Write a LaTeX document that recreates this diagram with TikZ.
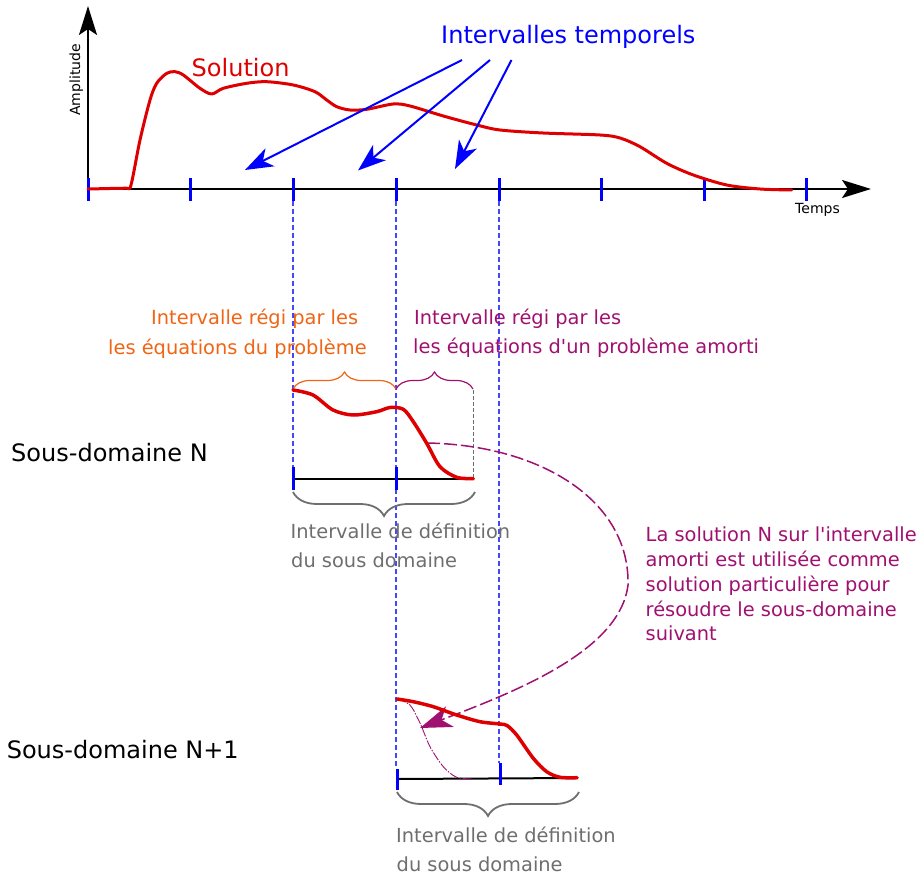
\documentclass[tikz,border=0pt]{standalone}
\usepackage{fontspec}
\setmainfont{DejaVu Sans}[Ligatures=TeXOff]
\usetikzlibrary{arrows.meta,decorations.pathreplacing}
\definecolor{cred}{RGB}{222,0,0}
\definecolor{cblue}{RGB}{0,0,255}
\definecolor{cguide}{RGB}{70,70,255}
\definecolor{corange}{RGB}{240,100,20}
\definecolor{cpurple}{RGB}{160,16,112}
\definecolor{cgrey}{RGB}{110,110,110}
\begin{document}
\begin{tikzpicture}[x=1pt,y=-1pt,
  big/.style={inner sep=0, anchor=base west, font=\fontsize{24}{28}\selectfont},
  med/.style={inner sep=0, anchor=base west, font=\fontsize{19.4}{24}\selectfont},
  small/.style={inner sep=0, anchor=base west, font=\fontsize{14}{16}\selectfont},
  axis/.style={line width=2pt, -{Stealth[length=29pt,width=18pt,inset=6pt]}},
  tickmark/.style={cblue, line width=3pt},
  guide/.style={cguide, line width=1.4pt, dash pattern=on 5pt off 3pt},
  ptr/.style={cblue, line width=2pt, -{Stealth[length=28pt,width=20pt,inset=8pt]}},
  sol/.style={cred, line width=3pt, line join=round, line cap=round},
  brc/.style={decorate, decoration={brace, amplitude=#1}},
]
\useasboundingbox (0,0) rectangle (918,874);

% guides
\draw[guide] (293,201) -- (293,468);
\draw[guide] (396,201) -- (396,768);
\draw[guide] (499,201) -- (499,763);

% main axes
\coordinate (O) at (88,189);
\coordinate (Ytop) at (88,6);
\coordinate (Xend) at (871,189);
\draw[axis] (O) -- (Ytop);
\draw[axis] (O) -- (Xend);
\foreach \x in {88,190,293,396,499,601.5,704,806.5} \draw[tickmark] (\x,178) -- (\x,201);

% main solution
\draw[sol] plot[smooth, tension=0.5] coordinates {(88,189) (110,188.5) (126,188) (131,185) (140,140) (150,100) (156.7,83.3) (166.7,73.3) (175,71.7) (183.3,75) (200,88.3) (211.7,94) (223.3,88.3) (246.7,83.3) (266.7,81.7) (293.3,85) (315,91.7) (326.7,100) (336.7,106.7) (350,110) (366.7,109.3) (393.3,104) (410,106) (443.3,116) (476.7,125) (500,130) (543,133) (600,135) (620,138) (640,146.7) (666.7,163.3) (693.3,175) (726.7,185) (760,189) (791.7,190)};

\node[big, text=cblue] (tInt) at (441,43.5) {Intervalles temporels};
\node[big, text=cred] (tSol) at (191.5,77) {Solution};
\node[small, rotate=90] (tAmp) at (80,116) {Amplitude};
\node[small] (tTemps) at (795,214) {Temps};

% pointers
\coordinate (a1s) at (462,60); \coordinate (a1e) at (245,170);
\coordinate (a2s) at (490,60); \coordinate (a2e) at (358,170.5);
\coordinate (a3s) at (511.5,60); \coordinate (a3e) at (455,169);
\draw[ptr] (a1s) -- (a1e);
\draw[ptr] (a2s) -- (a2e);
\draw[ptr] (a3s) -- (a3e);

% labels of the intervals
\node[med, text=corange] (o1) at (151,325) {Intervalle régi par les};
\node[med, text=corange] (o2) at (108,354.5) {les équations du problème};
\node[med, text=cpurple] (p1) at (414,325) {Intervalle régi par les};
\node[med, text=cpurple] (p2) at (413,354) {les équations d'un problème amorti};

% sub-domain N
\node[big] (tN) at (11,461) {Sous-domaine N};
\draw[corange, line width=1.2pt, brc=17] (293,389) -- (396,389);
\draw[cpurple, line width=1.2pt, brc=17] (396,389) -- (473,389);
\draw[cgrey, line width=0.9pt, dash pattern=on 4pt off 2pt] (473,390) -- (473,479);
\draw[line width=2pt] (293,479) -- (473,479);
\foreach \x in {293,396} \draw[tickmark] (\x,467) -- (\x,490);
\draw[cgrey, line width=1.8pt, brc=24] (475,492) -- (293,492);
\node[med, text=cgrey] (g1) at (290.5,538) {Intervalle de définition};
\node[med, text=cgrey] (g2) at (291,567) {du sous domaine};

% transfer arrow
\coordinate (arcS) at (427,443);
\coordinate (arcM) at (628,585);
\coordinate (arcE) at (420,728);
\draw[cpurple, line width=1.5pt, dash pattern=on 13pt off 4pt, -{Stealth[length=32pt,width=22pt,inset=9pt]}]
  (arcS) .. controls (540,445) and (630,500) .. (arcM) .. controls (620,650) and (520,690) .. (arcE);

\draw[sol, line width=3.5pt] plot[smooth, tension=0.5] coordinates {(293,390) (313,395) (333,410) (353,415) (376.7,411.7) (390,407.5) (403.3,409.3) (413.3,421.7) (426.7,443.3) (440,466.7) (456.7,477.3) (473.3,478.7)};

\node[med, text=cpurple] (r1) at (645.5,541) {La solution N sur l'intervalle};
\node[med, text=cpurple] (r2) at (645.5,566) {amorti est utilisée comme};
\node[med, text=cpurple] (r3) at (645.5,591) {solution particulière pour};
\node[med, text=cpurple] (r4) at (645.5,616) {résoudre le sous-domaine};
\node[med, text=cpurple] (r5) at (645.5,640) {suivant};

% sub-domain N+1
\node[big] (tN1) at (6.6,758.3) {Sous-domaine N+1};
\draw[line width=2pt] (397,779) -- (578,778);
\draw[tickmark] (397.5,769) -- (397.5,790);
\draw[tickmark] (500.5,763) -- (500.5,785);
\draw[cpurple, line width=0.9pt, dash pattern=on 9pt off 1.5pt on 1.5pt off 1.5pt] plot[smooth, tension=0.5] coordinates {(397,699) (410,705) (420,723) (430,746.7) (443.3,766.7) (456.7,777.3) (473.3,779)};
\draw[sol, line width=3.5pt] plot[smooth, tension=0.5] coordinates {(397,699) (413.3,701.7) (433.3,706.7) (456.7,715) (480,721.7) (500,724) (507,725.5) (516.7,735) (533.3,758.3) (546.7,771.7) (560,777.3) (577,777.7)};
\draw[cgrey, line width=1.8pt, brc=24] (579,792) -- (397,792);
\node[med, text=cgrey] (h1) at (396,842) {Intervalle de définition};
\node[med, text=cgrey] (h2) at (396.5,871) {du sous domaine};
\end{tikzpicture}
\end{document}
